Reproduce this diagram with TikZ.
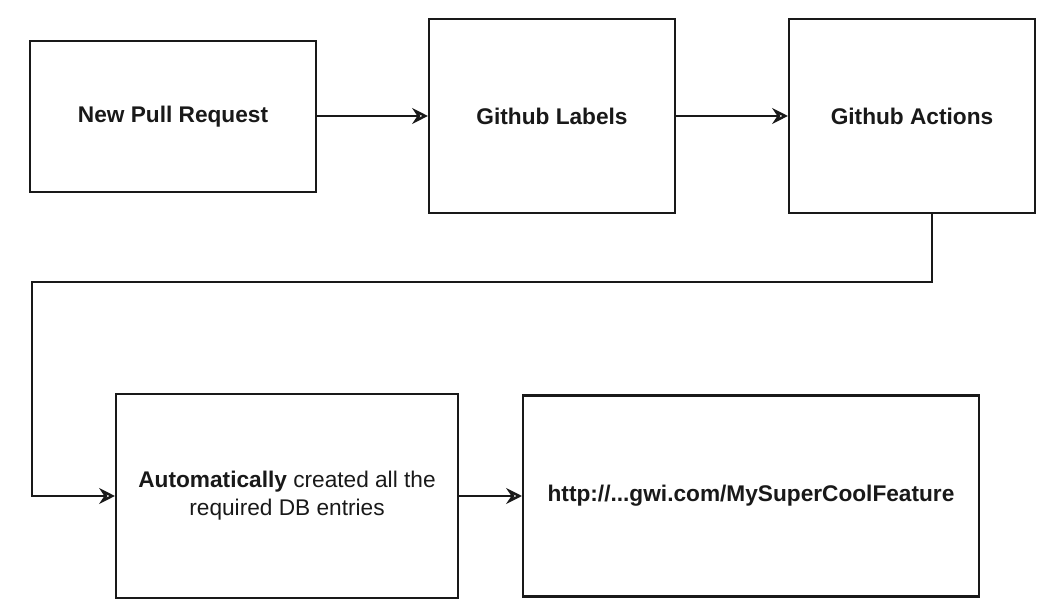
\documentclass[tikz,border=0pt]{standalone}
\usepackage{fontspec}
\setmainfont{Liberation Sans}
\definecolor{inkblack}{RGB}{25, 25, 25}
\usepackage{tikz}
\usetikzlibrary{arrows.meta, positioning}

\begin{document}
\begin{tikzpicture}[x=0.02cm, y=-0.02cm,
    flowbox/.style={draw=inkblack, line width=1.2pt, fill=white, align=center,
      font=\fontsize{12.9}{16}\selectfont, text=inkblack, inner sep=4pt},
    flow/.style={draw=inkblack, line width=1.2pt,
      -{Stealth[open, length=9pt, width=9pt, inset=3pt, line width=1.4pt]}}]
  \useasboundingbox (0, 0) rectangle (1054, 614);

  % Top row
  \node[flowbox, minimum width=5.72cm, minimum height=3.02cm] (newpr) at (173, 116.5) {\textbf{New Pull Request}};
  \node[flowbox, minimum width=4.92cm, minimum height=3.88cm] (ghlabels) at (552, 116) {\textbf{Github Labels}};
  \node[flowbox, minimum width=4.92cm, minimum height=3.88cm] (ghactions) at (912, 116) {\textbf{Github Actions}};

  % Bottom row
  \node[flowbox, minimum width=6.84cm, minimum height=4.08cm] (autodb) at (287, 496) {\textbf{Automatically} created all the\\required DB entries};
  \node[flowbox, minimum width=9.12cm, minimum height=4.02cm] (featurl) at (751, 496) {\textbf{http://...gwi.com/MySuperCoolFeature}};

  % Arrows
  \draw[flow] (newpr.east |- 0, 116) -- (ghlabels.west |- 0, 116);
  \draw[flow] (ghlabels.east) -- (ghactions.west);
  \coordinate (down) at (932, 282);
  \coordinate (back) at (32, 282);
  \draw[flow] (down |- ghactions.south) -- (down) -- (back) |- (autodb.west);
  \draw[flow] (autodb.east) -- (featurl.west);
\end{tikzpicture}
\end{document}
